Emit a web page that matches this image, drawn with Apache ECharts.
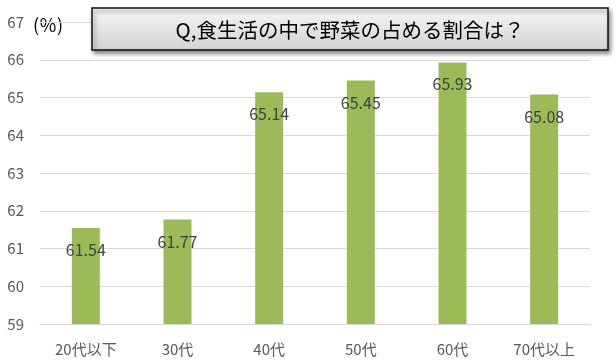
<!DOCTYPE html>
<html>
<head>
<meta charset="utf-8">
<script src="https://cdn.jsdelivr.net/npm/echarts@6/dist/echarts.min.js"></script>
<style>html,body{margin:0;padding:0;background:#fff}#c{width:616px;height:363px}</style>
</head>
<body>
<div id="c"></div>
<script>
var categories = ['20代以下', '30代', '40代', '50代', '60代', '70代以上'];
var values = [61.54, 61.77, 65.14, 65.45, 65.93, 65.08];
var titleText = 'Q,食生活の中で野菜の占める割合は？';
var unitText = '(％)';
var yMin = 59, yMax = 67, yStep = 1;

var FONT = '"Noto Sans CJK JP", "Noto Sans", sans-serif';
var chart = echarts.init(document.getElementById('c'), null, {renderer: 'canvas'});
chart.setOption({
  animation: false,
  backgroundColor: '#fff',
  grid: {left: 40, right: 26, top: 22, bottom: 39},
  xAxis: {
    type: 'category',
    data: categories,
    axisLine: {show: true, lineStyle: {color: '#d9d9d9', width: 1}},
    axisTick: {show: false},
    axisLabel: {color: '#595959', fontSize: 15, fontFamily: FONT, margin: 18}
  },
  yAxis: {
    type: 'value',
    min: yMin, max: yMax, interval: yStep,
    axisLine: {show: false},
    axisTick: {show: false},
    axisLabel: {color: '#595959', fontSize: 15, fontFamily: FONT, margin: 16},
    splitLine: {lineStyle: {color: '#d9d9d9', width: 1}}
  },
  series: [{
    type: 'bar',
    data: values,
    barWidth: 28,
    itemStyle: {color: '#9bbb59'},
    label: {
      show: true,
      position: 'insideTop',
      distance: 14,
      color: '#404040',
      fontSize: 16,
      fontFamily: FONT
    }
  }],
  graphic: [
    {
      type: 'text',
      x: 33, y: 25,
      style: {text: unitText, font: '18px ' + FONT, fill: '#000', verticalAlign: 'middle'}
    },
    {
      type: 'rect',
      shape: {x: 92, y: 8, width: 516, height: 42},
      style: {
        fill: new echarts.graphic.LinearGradient(0, 0, 0, 1, [
          {offset: 0, color: '#f7f7f7'},
          {offset: 1, color: '#d2d2d2'}
        ]),
        stroke: '#111',
        lineWidth: 1.5,
        shadowBlur: 4,
        shadowOffsetX: 2,
        shadowOffsetY: 3,
        shadowColor: 'rgba(0,0,0,0.45)'
      },
      z: 100
    },
    {
      type: 'text',
      x: 350, y: 30,
      style: {text: titleText, font: '20.5px ' + FONT, fill: '#000', align: 'center', verticalAlign: 'middle'},
      z: 101
    }
  ]
});
</script>
</body>
</html>
